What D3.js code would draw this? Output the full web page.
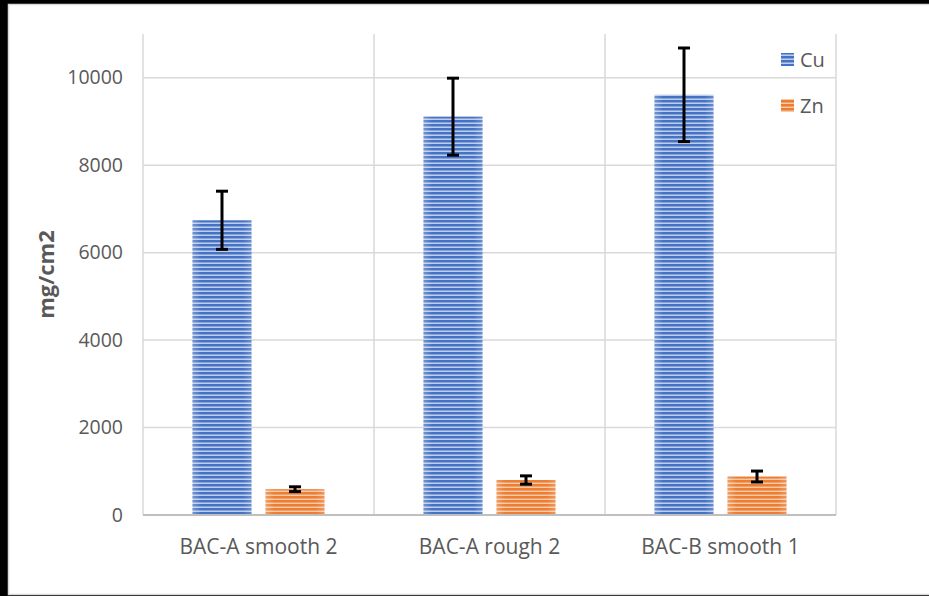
<!DOCTYPE html>
<html><head><meta charset="utf-8">
<script src="https://cdn.jsdelivr.net/npm/d3@7"></script>
<style>html,body{margin:0;padding:0;background:#000;}svg{display:block;}</style>
</head><body>
<script>
const categories = ["BAC-A smooth 2", "BAC-A rough 2", "BAC-B smooth 1"];
const seriesNames = ["Cu", "Zn"];
const cuValues = [6740, 9110, 9610];
const cuErrors = [665, 880, 1070];
const znValues = [590, 800, 880];
const znErrors = [55, 95, 125];
const yTicks = [0, 2000, 4000, 6000, 8000, 10000];

const W = 929, H = 596;
const margin = {left: 143, right: 93, top: 34, bottom: 81};
const svg = d3.select("body").append("svg").attr("width", W).attr("height", H);

const defs = svg.append("defs");
function stripes(id, base, mid, light) {
  const p = defs.append("pattern").attr("id", id).attr("patternUnits", "userSpaceOnUse")
    .attr("width", 8).attr("height", 4);
  p.append("rect").attr("width", 8).attr("height", 4).attr("fill", base);
  p.append("rect").attr("y", 2).attr("width", 8).attr("height", 1).attr("fill", mid);
  p.append("rect").attr("y", 3).attr("width", 8).attr("height", 1).attr("fill", light);
}
stripes("pCu", "#4472C4", "#86a2d9", "#bccde9");
stripes("pZn", "#ED7D31", "#f2a06b", "#f8caa8");
const eg = defs.append("linearGradient").attr("id", "edge").attr("x1", 0).attr("x2", 1).attr("y1", 0).attr("y2", 0);
eg.append("stop").attr("offset", 0).attr("stop-color", "#fff").attr("stop-opacity", 0.25);
eg.append("stop").attr("offset", 0.15).attr("stop-color", "#fff").attr("stop-opacity", 0);
eg.append("stop").attr("offset", 0.85).attr("stop-color", "#fff").attr("stop-opacity", 0);
eg.append("stop").attr("offset", 1).attr("stop-color", "#fff").attr("stop-opacity", 0.2);

// background frame
svg.append("rect").attr("width", W).attr("height", H).attr("fill", "#000");
svg.append("rect").attr("x", 8.5).attr("y", 4.5).attr("width", W + 10).attr("height", 590)
  .attr("fill", "#fff").attr("stroke", "#d9d9d9").attr("stroke-width", 1.5);

const x0 = d3.scaleBand().domain(categories).range([margin.left, W - margin.right]).padding(0);
const x1 = d3.scaleBand().domain(seriesNames).range([0, x0.bandwidth()])
  .paddingInner(0.192).paddingOuter(0.678);
const y = d3.scaleLinear().domain([0, 11000]).range([H - margin.bottom, margin.top]);

const font = "'Open Sans', 'Liberation Sans', sans-serif";
const textColor = "#595959";

// horizontal gridlines
svg.append("g").selectAll("line").data(yTicks.filter(d => d > 0)).join("line")
  .attr("x1", margin.left).attr("x2", W - margin.right)
  .attr("y1", d => y(d)).attr("y2", d => y(d))
  .attr("stroke", "#d9d9d9").attr("stroke-width", 1.5);
// vertical category gridlines
const vlines = categories.map(c => x0(c)).concat([x0(categories[2]) + x0.bandwidth()]);
svg.append("g").selectAll("line").data(vlines).join("line")
  .attr("x1", d => d).attr("x2", d => d)
  .attr("y1", margin.top).attr("y2", y(0))
  .attr("stroke", "#d9d9d9").attr("stroke-width", 1.5);

// y axis labels
const yAxis = d3.axisLeft(y).tickValues(yTicks).tickSize(0).tickPadding(20).tickFormat(d3.format("d"));
const ya = svg.append("g").attr("transform", `translate(${margin.left},0)`).call(yAxis);
ya.select(".domain").remove();
ya.selectAll("text").attr("font-family", font).attr("font-size", 19.5).attr("fill", textColor);

// bars
const series = [
  {name: "Cu", values: cuValues, errors: cuErrors, fill: "url(#pCu)"},
  {name: "Zn", values: znValues, errors: znErrors, fill: "url(#pZn)"}
];
series.forEach(s => {
  const g = svg.append("g");
  const rows = categories.map((c, i) => ({c, v: s.values[i], e: s.errors[i]}));
  g.selectAll("rect.bar").data(rows).join("rect").attr("class", "bar")
    .attr("x", d => x0(d.c) + x1(s.name)).attr("width", x1.bandwidth())
    .attr("y", d => y(d.v)).attr("height", d => y(0) - y(d.v)).attr("fill", s.fill);
  g.selectAll("rect.edge").data(rows).join("rect").attr("class", "edge")
    .attr("x", d => x0(d.c) + x1(s.name)).attr("width", x1.bandwidth())
    .attr("y", d => y(d.v)).attr("height", d => y(0) - y(d.v)).attr("fill", "url(#edge)");
  // error bars
  const cx = d => x0(d.c) + x1(s.name) + x1.bandwidth() / 2;
  g.selectAll("line.ev").data(rows).join("line").attr("class", "ev")
    .attr("x1", cx).attr("x2", cx).attr("y1", d => y(d.v + d.e)).attr("y2", d => y(d.v - d.e))
    .attr("stroke", "#000").attr("stroke-width", 3);
  ["top", "bot"].forEach(k => {
    g.selectAll("line.c" + k).data(rows).join("line").attr("class", "c" + k)
      .attr("x1", d => cx(d) - 6).attr("x2", d => cx(d) + 6)
      .attr("y1", d => y(k === "top" ? d.v + d.e : d.v - d.e))
      .attr("y2", d => y(k === "top" ? d.v + d.e : d.v - d.e))
      .attr("stroke", "#000").attr("stroke-width", 3);
  });
});

// x axis line
svg.append("line").attr("x1", margin.left).attr("x2", W - margin.right)
  .attr("y1", y(0)).attr("y2", y(0)).attr("stroke", "#bfbfbf").attr("stroke-width", 2);

// x axis labels
const xAxis = d3.axisBottom(x0).tickSize(0).tickPadding(24);
const xa = svg.append("g").attr("transform", `translate(0,${y(0)})`).call(xAxis);
xa.select(".domain").remove();
xa.selectAll("text").attr("font-family", font).attr("font-size", 21).attr("fill", textColor);

// y title
svg.append("text").attr("transform", `translate(54,${(margin.top + y(0)) / 2}) rotate(-90)`)
  .attr("text-anchor", "middle").attr("font-family", font).attr("font-weight", "bold")
  .attr("font-size", 22).attr("fill", textColor).text("mg/cm2");

// legend
const legend = svg.append("g");
series.forEach((s, i) => {
  const ly = 59.5 + i * 46;
  legend.append("rect").attr("x", 781).attr("y", ly - 6.5).attr("width", 13).attr("height", 13).attr("fill", s.fill);
  legend.append("text").attr("x", 800).attr("y", ly).attr("dy", "0.35em")
    .attr("font-family", font).attr("font-size", 20).attr("fill", textColor).text(s.name);
});
</script>
</body></html>
